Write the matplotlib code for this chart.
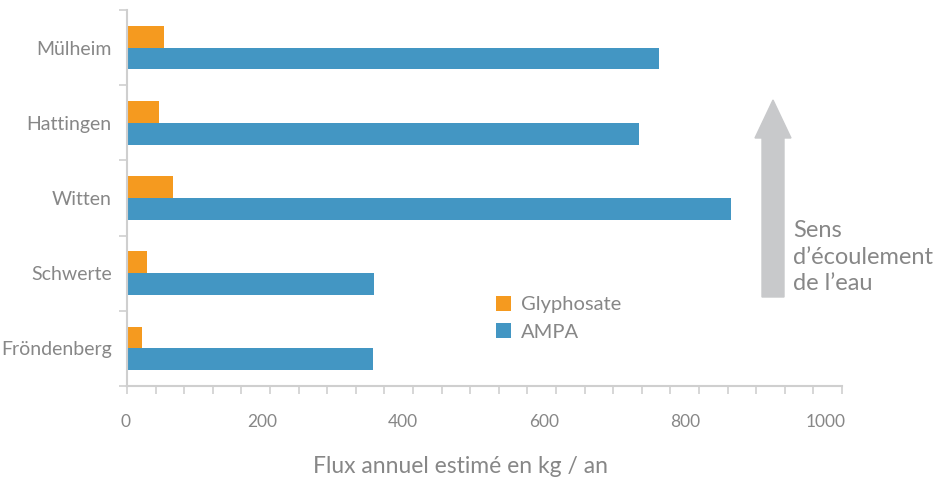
import numpy as np
import matplotlib
matplotlib.use("Agg")
import matplotlib.pyplot as plt
from matplotlib.patches import FancyArrow

plt.rcParams['font.family'] = ['Lato', 'DejaVu Sans']

villes = ["Mülheim", "Hattingen", "Witten", "Schwerte", "Fröndenberg"]
glyphosate = [61, 54, 74, 37, 30]
ampa = [763, 735, 865, 359, 357]
graduations = [200, 400, 600, 800, 1000]

orange = "#F59A1F"
bleu = "#4396C3"
gris_txt = "#878787"
gris_axe = "#CFCFCF"

fig = plt.figure(figsize=(9.37, 4.8), dpi=100)
ax = fig.add_axes([127/937, 1-386/480, (842-127)/937, (386-10)/480])

pos = np.arange(len(villes))[::-1]
h = 0.29
ax.barh(pos + h/2, glyphosate, height=h, color=orange, label="Glyphosate")
ax.barh(pos - h/2, ampa, height=h, color=bleu, label="AMPA")

# echelle des etiquettes un peu decalee par rapport a l'axe (comme l'original)
x0, x1 = 8.5, 1022.7
ax.set_xlim(x0, x1)
ax.set_ylim(-0.5, len(villes) - 0.5)

for s in ["top", "right"]:
    ax.spines[s].set_visible(False)
for s in ["left", "bottom"]:
    ax.spines[s].set_color(gris_axe)
    ax.spines[s].set_linewidth(1.5)

# etiquettes x
ax.set_xticks(graduations)
ax.set_xticklabels([str(g) for g in graduations])
ax.tick_params(axis="x", which="major", length=0, labelcolor=gris_txt, labelsize=12.5, pad=20)
ax.annotate("0", xy=(7, 0), xycoords=("data", "axes fraction"), xytext=(0, -20),
            textcoords="offset points", ha="center", va="top", color=gris_txt,
            fontsize=12.5, annotation_clip=False)
# petites graduations regulieres le long de l'axe
ax.set_xticks(np.linspace(x0, x1, 26), minor=True)
ax.tick_params(axis="x", which="minor", length=5.5, width=1.2, color=gris_axe)

# ticks y aux limites des categories, noms au centre
ax.set_yticks(np.arange(-0.5, len(villes), 1.0))
ax.set_yticklabels([])
ax.tick_params(axis="y", which="major", length=6, width=1.2, color=gris_axe)
ax.set_yticks(pos, minor=True)
ax.set_yticklabels(villes, minor=True)
ax.tick_params(axis="y", which="minor", length=0, labelcolor=gris_txt, labelsize=14, pad=11)

ax.set_xlabel("Flux annuel estimé en kg / an", color=gris_txt, fontsize=16.5)
ax.xaxis.set_label_coords(0.466, -0.185)

ax.legend(loc="upper left", bbox_to_anchor=(496/937, 1-296/480), bbox_transform=fig.transFigure,
          frameon=False, fontsize=14.5, labelcolor=gris_txt, handlelength=0.75, handleheight=0.75,
          handletextpad=0.5, labelspacing=0.5, borderpad=0, borderaxespad=0)

# fleche sens d'ecoulement
fleche = FancyArrow(773/937, 1-297/480, 0, (297-100)/480, width=22/937, head_width=36/937,
                    head_length=38/480, length_includes_head=True, color="#C8C9CB",
                    transform=fig.transFigure)
fig.patches.append(fleche)
fig.text(793/937, 1-257/480, "Sens\nd’écoulement\nde l’eau", color=gris_txt, fontsize=17,
         ha="left", va="center", linespacing=1.3)

fig.savefig("out.png", dpi=100)
